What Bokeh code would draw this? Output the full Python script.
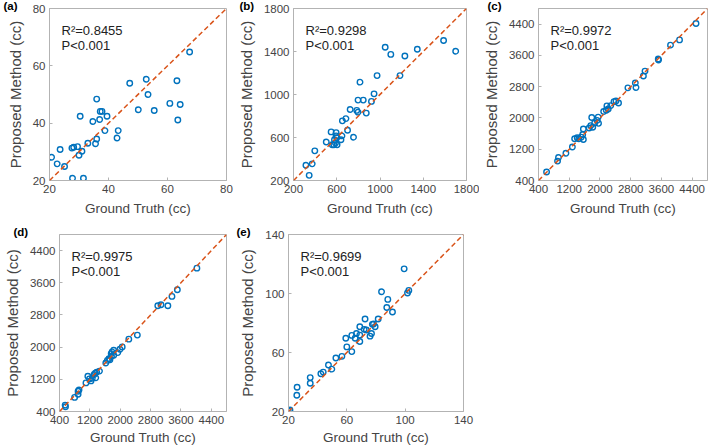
from bokeh.plotting import figure
from bokeh.layouts import column, row
from bokeh.models import Label, Slope, FixedTicker, Range1d
from bokeh.embed import file_html
from bokeh.resources import INLINE

# ---------------- data ----------------
a_truth = [20.7, 22.6, 23.6, 25.1, 27.6, 28.2, 27.8, 29.5, 30.0, 31.0, 30.4, 31.5, 33.0, 34.7, 35.6, 36.0, 36.0,
           37.0, 37.2, 37.8, 38.8, 39.5, 42.9, 43.3, 47.2, 50.1, 52.8, 53.4, 55.5, 60.8, 63.2, 63.5, 64.3, 67.5]
a_pred = [28.1, 25.8, 30.8, 24.9, 31.3, 31.6, 20.8, 31.8, 28.8, 30.2, 42.4, 20.8, 33.0, 40.6, 32.8, 34.5, 48.4,
          41.3, 44.1, 44.1, 37.4, 42.4, 34.8, 37.4, 53.9, 44.7, 55.3, 50.0, 44.4, 46.9, 54.8, 41.1, 46.5, 64.8]

b_truth = [315, 345, 373, 397, 503, 548, 558, 573, 579, 588, 594, 594, 603, 600, 639, 648, 652, 685, 700, 724,
           755, 785, 797, 797, 815, 845, 873, 921, 945, 973, 1048, 1100, 1185, 1230, 1345, 1588, 1700]
b_pred = [342, 248, 355, 476, 558, 652, 533, 533, 579, 548, 615, 645, 533, 597, 579, 615, 755, 776, 667, 861,
          603, 852, 836, 948, 1115, 948, 827, 936, 1006, 1176, 1439, 1373, 1176, 1358, 1421, 1503, 1403]

c_truth = [610, 896, 921, 1114, 1282, 1341, 1408, 1450, 1509, 1551, 1568, 1568, 1719, 1761, 1786, 1812, 1862,
           1929, 1955, 1963, 2097, 2164, 2181, 2215, 2282, 2366, 2417, 2484, 2728, 2921, 2938, 3131, 3173, 3518,
           3526, 3837, 4072, 4501]
c_pred = [618, 896, 988, 1097, 1257, 1467, 1492, 1467, 1509, 1576, 1719, 1450, 1744, 1803, 2013, 1761, 1870,
          1938, 2022, 1862, 2165, 2198, 2308, 2232, 2316, 2417, 2433, 2383, 2770, 2896, 2778, 3072, 3198, 3509,
          3484, 3862, 3997, 4417]

d_truth = [549, 558, 798, 890, 890, 915, 1097, 1147, 1189, 1230, 1263, 1313, 1346, 1355, 1380, 1454, 1620, 1662,
           1703, 1728, 1770, 1762, 1786, 1828, 1828, 1936, 1994, 2052, 2226, 2451, 2990, 3073, 3255, 3363, 3505, 4020]
d_pred = [559, 517, 751, 827, 902, 935, 1111, 1278, 1211, 1161, 1227, 1320, 1354, 1236, 1379, 1404, 1605, 1672,
          1713, 1688, 1772, 1839, 1881, 1797, 1923, 1864, 1948, 2006, 2198, 2299, 3027, 3052, 3027, 3261, 3428, 3964]

e_truth = [19.8, 21.0, 25.7, 25.9, 34.9, 34.9, 42.2, 43.8, 47.4, 49.7, 52.5, 56.6, 60.0, 59.3, 63.4, 63.4, 65.7,
           66.6, 68.9, 68.9, 68.9, 71.9, 72.5, 73.4, 75.9, 76.9, 77.5, 79.4, 78.3, 81.5, 83.8, 87.4, 88.1, 91.3,
           99.3, 101.6, 102.5]
e_pred = [20.5, 21.0, 31.0, 36.4, 39.2, 43.0, 45.6, 46.7, 51.5, 48.7, 56.3, 57.4, 63.8, 69.7, 60.6, 71.6, 69.7,
          72.9, 67.5, 71.8, 77.5, 75.7, 82.7, 75.3, 71.1, 72.9, 79.1, 77.5, 79.3, 82.7, 101.2, 90.5, 96.0, 87.5,
          116.7, 100.3, 102.1]

panel_tags = ["(a)", "(b)", "(c)", "(d)", "(e)"]
r2_values = ["0.8455", "0.9298", "0.9972", "0.9975", "0.9699"]
p_text = "P<0.001"
limits = [(20, 80), (200, 1800), (400, 4800), (400, 4800), (20, 140)]
ticks = [[20, 40, 60, 80], [200, 600, 1000, 1400, 1800], [400, 1200, 2000, 2800, 3600, 4400],
         [400, 1200, 2000, 2800, 3600, 4400], [20, 60, 100, 140]]
x_label = "Ground Truth (cc)"
y_label = "Proposed Method (cc)"

# ---------------- style ----------------
FONT = "Liberation Sans"
TXT = "#444444"
FRAME = "#b3b3b3"
BLUE = "#0072BD"
ORANGE = "#D95319"

# layout: (left, right, frame_w, bottom, height, tag_offset, xlabel_standoff)
layout_spec = [
    (49, 8, 177, 46, 226, -46, 5),
    (56, 13, 176, 46, 226, -54, 5),
    (54, 2, 174, 46, 226, -51, 5),
    (49, 8, 177, 37, 222, -46, 3),
    (54, 13, 175, 37, 222, -52, 3),
]

series = [(a_truth, a_pred), (b_truth, b_pred), (c_truth, c_pred), (d_truth, d_pred), (e_truth, e_pred)]

figs = []
for i in range(5):
    l, r, fw, b, h, toff, xls = layout_spec[i]
    lo, hi = limits[i]
    p = figure(width=l + r + fw, height=h, output_backend="svg", toolbar_location=None,
               x_range=Range1d(lo, hi), y_range=Range1d(lo, hi), title=panel_tags[i],
               min_border_left=l, min_border_right=r, min_border_top=0, min_border_bottom=b)
    p.title.align = "left"
    p.title.offset = toff
    p.title.standoff = -6
    p.title.vertical_align = "bottom"
    p.title.text_font = FONT
    p.title.text_font_size = "11.5px"
    p.title.text_font_style = "bold"
    p.title.text_color = "black"

    p.grid.visible = False
    p.outline_line_color = FRAME
    p.outline_line_width = 1
    p.background_fill_color = "white"
    p.border_fill_color = "white"
    for ax in (p.xaxis[0], p.yaxis[0]):
        ax.ticker = FixedTicker(ticks=ticks[i])
        ax.axis_line_color = FRAME
        ax.major_tick_line_color = FRAME
        ax.major_tick_in = 3
        ax.major_tick_out = 0
        ax.minor_tick_line_color = None
        ax.major_label_text_font = FONT
        ax.major_label_text_font_size = "11.5px"
        ax.major_label_text_color = TXT
        ax.major_label_standoff = 4
        ax.axis_label_text_font = FONT
        ax.axis_label_text_font_style = "normal"
        ax.axis_label_text_color = TXT
    p.xaxis[0].axis_label = x_label
    p.xaxis[0].axis_label_text_font_size = "13.5px"
    p.xaxis[0].axis_label_standoff = xls
    p.yaxis[0].axis_label = y_label
    p.yaxis[0].axis_label_text_font_size = "15px"
    p.yaxis[0].axis_label_standoff = 6

    p.add_layout(Slope(gradient=1, y_intercept=0, line_color=ORANGE, line_width=1.5, line_dash="5 3"))
    xs, ys = series[i]
    p.scatter(x=xs, y=ys, marker="circle", size=5.5, fill_color=None, line_color=BLUE, line_width=1.4)

    p.add_layout(Label(x=lo, y=hi, x_offset=12, y_offset=-22, text="R\u00b2=" + r2_values[i],
                       text_font=FONT, text_font_size="13px", text_color="#222222", text_baseline="alphabetic"))
    p.add_layout(Label(x=lo, y=hi, x_offset=12, y_offset=-37, text=p_text,
                       text_font=FONT, text_font_size="13px", text_color="#222222", text_baseline="alphabetic"))
    figs.append(p)

layout = column(row(figs[0], figs[1], figs[2]), row(figs[3], figs[4]))

open("out.html", "w").write(file_html(layout, INLINE))
